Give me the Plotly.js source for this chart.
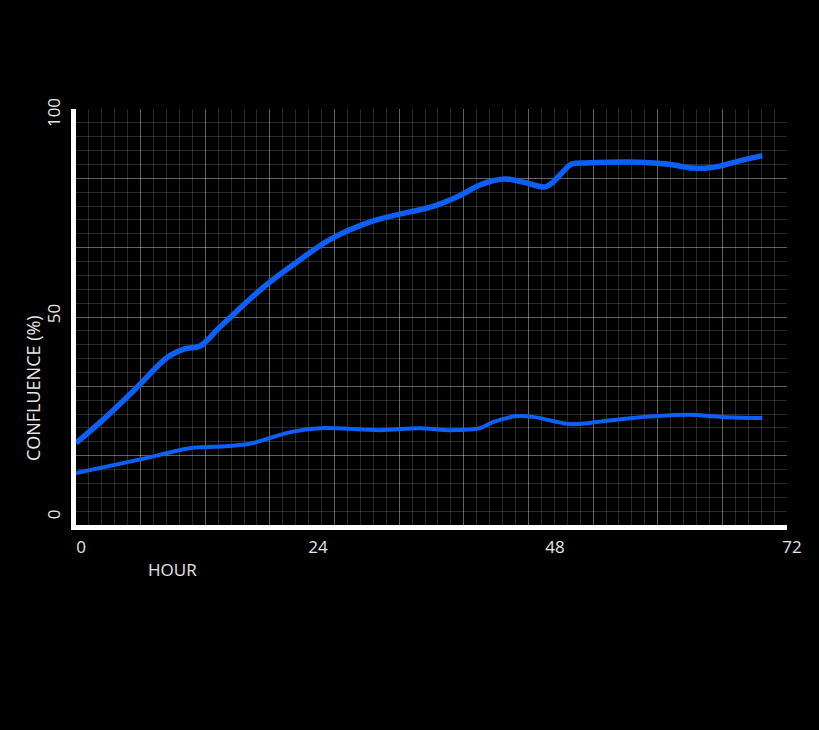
<!DOCTYPE html>
<html>
<head>
<meta charset="utf-8">
<script src="https://cdn.plot.ly/plotly-3.0.1.min.js"></script>
<style>html,body{margin:0;padding:0;background:#000;}#chart{width:819px;height:730px;}</style>
</head>
<body>
<div id="chart"></div>
<script>
// Upper curve
const hoursTop = [0, 2.7, 6.2, 9.2, 11, 12.6, 14.6, 19, 22.7, 25.7, 29.8, 33.8, 35.8, 38.9, 40.9, 43.4, 45.3, 47.5, 48.2, 49.2, 50.2, 52, 56.1, 59.8, 62.5, 63.9, 65.2, 67.2, 69.5];
const confTop  = [18.4, 24.1, 32.3, 39.6, 41.8, 42.6, 47.3, 57.2, 64, 69, 73.4, 75.9, 77, 80, 82.6, 84.1, 83.3, 82.1, 83.1, 85.6, 87.8, 88.1, 88.3, 87.8, 86.8, 86.8, 87.3, 88.6, 89.9];
// Lower curve
const hoursBot = [0, 6.3, 11.8, 14.5, 17.6, 21.7, 24.7, 30.8, 34.8, 37.9, 40.9, 42.2, 44.7, 46.3, 50, 52, 55.4, 58.8, 62.2, 65.5, 69.5];
const confBot  = [10.9, 14.2, 17.2, 17.5, 18.2, 21.1, 22.1, 21.6, 22.1, 21.6, 22.1, 23.6, 25.1, 24.9, 23.1, 23.4, 24.4, 25.1, 25.4, 24.9, 24.6];
// Axis ticks
const xTicks = [0, 24, 48, 72];
const yTicks = [0, 50, 100];

const lineColor = 'rgb(12,96,245)';
const font = 'Open Sans, Noto Sans, sans-serif';

const traces = [
  {x: [], y: [], xaxis: 'x', yaxis: 'y', mode: 'lines', showlegend: false, hoverinfo: 'skip'},
  {x: hoursTop, y: confTop, xaxis: 'x2', yaxis: 'y2', mode: 'lines',
   line: {color: lineColor, width: 5.5, shape: 'spline', smoothing: 0.9}, showlegend: false},
  {x: hoursBot, y: confBot, xaxis: 'x2', yaxis: 'y2', mode: 'lines',
   line: {color: lineColor, width: 4, shape: 'spline', smoothing: 0.9}, showlegend: false}
];

const gridMajor = 'rgba(255,255,255,0.38)';
const gridMinor = 'rgba(255,255,255,0.16)';

const layout = {
  width: 819, height: 730,
  paper_bgcolor: '#000', plot_bgcolor: '#000',
  margin: {l: 76, r: 32, t: 109, b: 205},
  showlegend: false,
  font: {family: font, color: '#e6e6e6', size: 17},
  xaxis: {range: [0, 11], dtick: 1, showgrid: true, gridcolor: gridMajor, gridwidth: 1,
          minor: {dtick: 0.2, showgrid: true, gridcolor: gridMinor, gridwidth: 1},
          showticklabels: false, ticks: '', zeroline: false, showline: false, fixedrange: true},
  yaxis: {range: [0, 6], dtick: 1, showgrid: true, gridcolor: gridMajor, gridwidth: 1,
          minor: {dtick: 0.2, showgrid: true, gridcolor: gridMinor, gridwidth: 1},
          showticklabels: false, ticks: '', zeroline: false, showline: false, fixedrange: true},
  xaxis2: {overlaying: 'x', side: 'bottom', range: [0, 72], tickvals: xTicks, ticktext: xTicks.map(String),
           showgrid: false, zeroline: false, showline: true, linecolor: '#ffffff', linewidth: 5,
           ticks: '', ticklabelshift: 5, ticklabelstandoff: 3,
           tickfont: {family: font, size: 17, color: '#e6e6e6'}},
  yaxis2: {overlaying: 'y', side: 'left', range: [-2, 101.5], tickvals: yTicks, ticktext: yTicks.map(String),
           showgrid: false, zeroline: false, showline: true, linecolor: '#ffffff', linewidth: 5,
           ticks: '', tickangle: -90, ticklabelstandoff: 4,
           tickfont: {family: font, size: 17, color: '#e6e6e6'}},
  annotations: [
    {text: 'CONFLUENCE (%)', xref: 'paper', yref: 'paper', x: -0.0605, y: 0.329,
     textangle: -90, showarrow: false, xanchor: 'center', yanchor: 'middle',
     font: {family: font, size: 18, color: '#e6e6e6'}},
    {text: 'HOUR', xref: 'paper', yref: 'paper', x: 0.136, y: -0.108,
     showarrow: false, xanchor: 'center', yanchor: 'middle',
     font: {family: font, size: 17, color: '#e6e6e6'}}
  ]
};

Plotly.newPlot('chart', traces, layout, {displayModeBar: false, staticPlot: true});
</script>
</body>
</html>
